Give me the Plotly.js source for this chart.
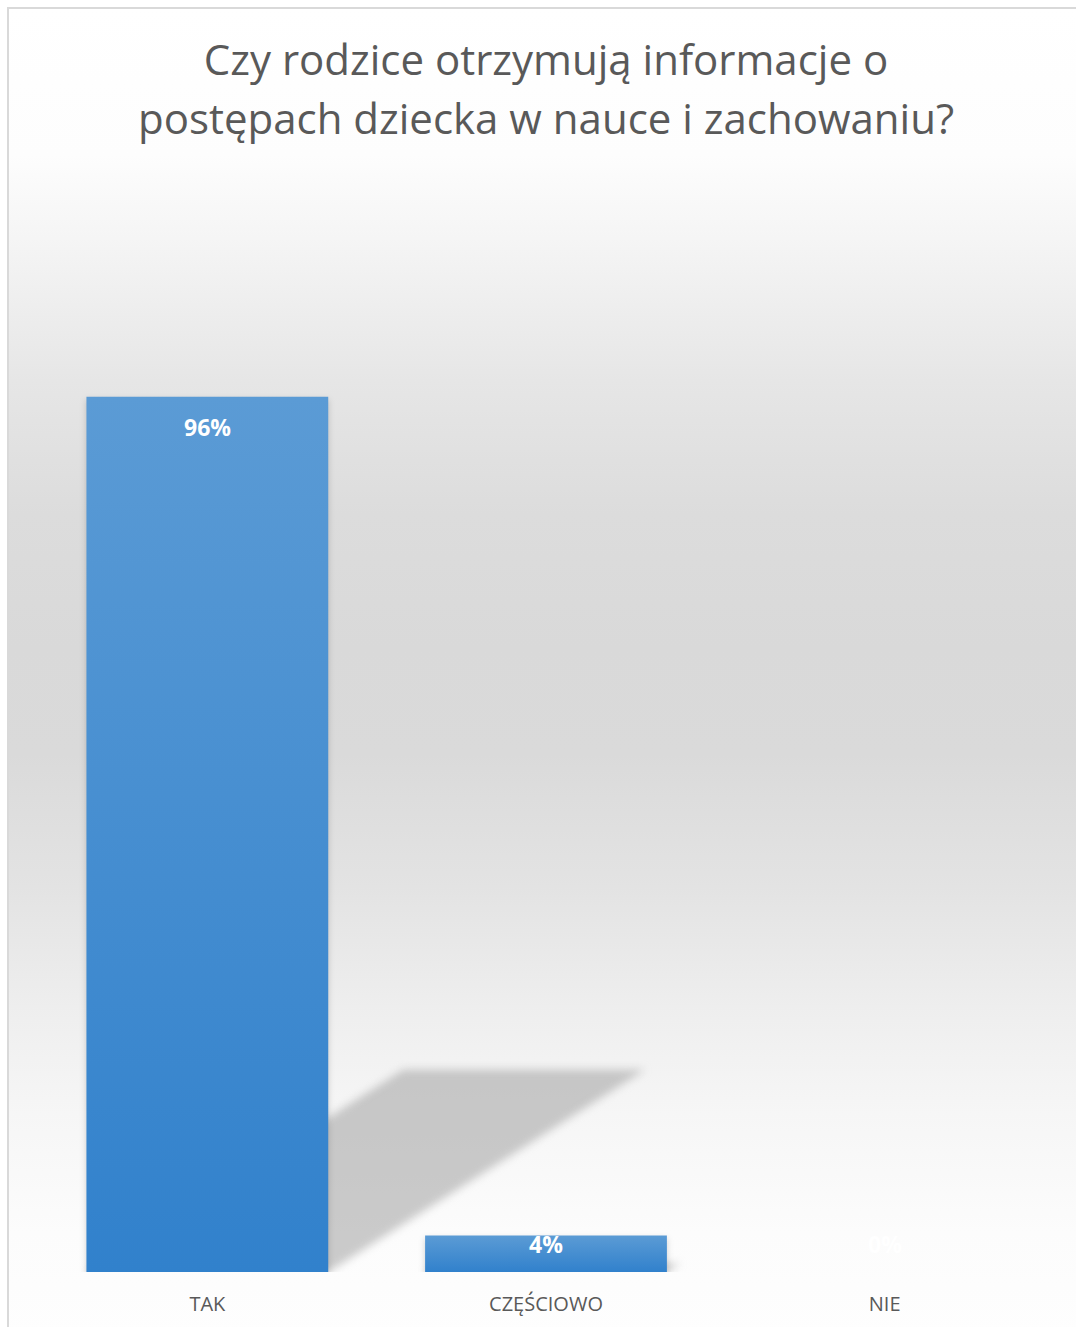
<!DOCTYPE html>
<html>
<head>
<meta charset="utf-8">
<script src="https://cdn.plot.ly/plotly-3.0.1.min.js"></script>
<style>
  html, body { margin: 0; padding: 0; width: 1076px; height: 1327px; overflow: hidden; background: #ffffff; }
  #bg {
    position: absolute; left: 7px; top: 7px; width: 1080px; height: 1330px;
    border-left: 2px solid #d9d9d9; border-top: 2px solid #d9d9d9;
    background: linear-gradient(to bottom,
      #ffffff 0%, #fdfdfd 11%, #f4f4f4 18%, #e6e6e6 28%, #dcdcdc 38%,
      #d9d9d9 48%, #dadada 56%, #e3e3e3 66%, #eeeeee 75%, #f6f6f6 83%,
      #fcfcfc 92%, #fefefe 100%);
  }
  #chart { position: absolute; left: 0; top: 0; width: 1076px; height: 1327px; }
</style>
</head>
<body>
<div id="bg"></div>
<div id="chart"></div>
<script>
const categories = ['TAK', 'CZĘŚCIOWO', 'NIE'];
const values = [96, 4, 0];
const valueLabels = ['96%', '4%', '0%'];
const titleLine1 = 'Czy rodzice otrzymują informacje o';
const titleLine2 = 'postępach dziecka w nauce i zachowaniu?';

const W = 1076, H = 1327;
const M = { l: 38, r: 22, t: 178, b: 55 };
const yMax = 120;
const barWidth = 0.714;
const shadowShear = 0.935;
const shadowRatio = 0.231;
const pxPerUnit = (H - M.t - M.b) / yMax;

const shapes = categories.map((c, i) => {
  const x0 = i - barWidth / 2, x1 = i + barWidth / 2;
  const h = values[i] * shadowRatio;
  const dx = shadowShear * values[i] / values[0];
  return {
    type: 'path', xref: 'x', yref: 'y', layer: 'below',
    path: `M ${x0},0 L ${x1},0 L ${x1 + dx},${h} L ${x0 + dx},${h} Z`,
    fillcolor: 'rgba(160,160,160,0.55)', line: { width: 0 }
  };
}).filter((s, i) => values[i] > 0);

const labelFont = { family: 'Open Sans, sans-serif', size: 23, color: '#ffffff', weight: 'bold' };
const labelAnnotations = categories.map((c, i) => ({
  x: c, y: values[i], xref: 'x', yref: 'y', showarrow: false,
  text: '<b>' + valueLabels[i] + '</b>', font: labelFont,
  yanchor: 'middle', xanchor: 'center',
  yshift: -Math.min(30, values[i] * pxPerUnit - 28)
}));

const trace = {
  type: 'bar',
  x: categories,
  y: values,
  textposition: 'none',
  cliponaxis: false,
  marker: { color: '#4a8fd3', line: { width: 0 } },
  width: barWidth,
  hoverinfo: 'x+y'
};

const titleFont = { family: 'Open Sans, sans-serif', size: 42, color: '#595959' };
const layout = {
  width: W, height: H,
  paper_bgcolor: 'rgba(0,0,0,0)', plot_bgcolor: 'rgba(0,0,0,0)',
  margin: M,
  showlegend: false,
  title: {
    text: titleLine1, font: titleFont,
    x: 0.5, xanchor: 'center', xref: 'paper',
    y: 1 - 60 / H, yanchor: 'middle', yref: 'container'
  },
  annotations: [{
    text: titleLine2, xref: 'paper', yref: 'paper', x: 0.5, xanchor: 'center',
    y: 1 + (M.t - 117) / (H - M.t - M.b), yanchor: 'middle', showarrow: false,
    font: titleFont
  }].concat(labelAnnotations),
  xaxis: {
    type: 'category', range: [-0.5, 2.5], showgrid: false, zeroline: false,
    showline: false, ticks: '', ticklabelstandoff: 18,
    tickfont: { family: 'Open Sans, sans-serif', size: 20, color: '#595959' }
  },
  yaxis: {
    range: [0, yMax], showgrid: false, zeroline: false, showline: false,
    showticklabels: false, ticks: ''
  },
  shapes: shapes
};

Plotly.newPlot('chart', [trace], layout, { displayModeBar: false, staticPlot: true }).then(gd => {
  const svgNS = 'http://www.w3.org/2000/svg';
  const svg = gd.querySelector('.main-svg');
  let defs = svg.querySelector('defs');
  if (!defs) { defs = document.createElementNS(svgNS, 'defs'); svg.insertBefore(defs, svg.firstChild); }
  const grad = document.createElementNS(svgNS, 'linearGradient');
  grad.setAttribute('id', 'barGrad');
  grad.setAttribute('x1', '0'); grad.setAttribute('y1', '0');
  grad.setAttribute('x2', '0'); grad.setAttribute('y2', '1');
  [['0', '#5b9bd5'], ['1', '#3181cc']].forEach(([o, c]) => {
    const s = document.createElementNS(svgNS, 'stop');
    s.setAttribute('offset', o); s.setAttribute('stop-color', c);
    grad.appendChild(s);
  });
  defs.appendChild(grad);
  gd.querySelectorAll('.bars .point path').forEach(p => {
    p.style.fill = 'url(#barGrad)';
    p.style.filter = 'drop-shadow(0px 3px 3px rgba(0,0,0,0.18))';
  });
  gd.querySelectorAll('.shapelayer path').forEach(p => {
    p.style.filter = 'blur(4px)';
  });
});
</script>
</body>
</html>
